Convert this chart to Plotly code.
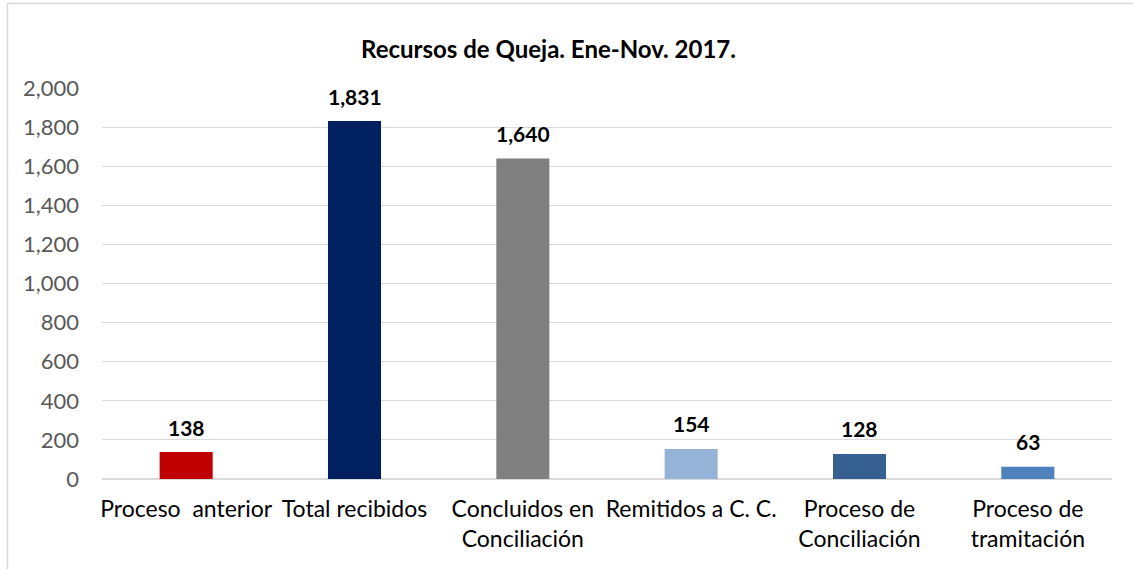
import plotly.graph_objects as go

categories = ["Proceso  anterior", "Total recibidos", "Concluidos en<br>Conciliación",
              "Remitidos a C. C.", "Proceso de<br>Conciliación", "Proceso de<br>tramitación"]
values = [138, 1831, 1640, 154, 128, 63]
colors = ["#C00000", "#002060", "#808080", "#95B3D7", "#366092", "#4F81BD"]
title_text = "Recursos de Queja. Ene-Nov. 2017."
y_ticks = [0, 200, 400, 600, 800, 1000, 1200, 1400, 1600, 1800, 2000]

FONT = "Lato"
W, H = 1133, 569
L, R, T, B = 102, 21, 88, 90
PW, PH = W - L - R, H - T - B

fig = go.Figure()
fig.add_trace(go.Bar(
    x=categories, y=values, marker=dict(color=colors, line=dict(width=0)),
    width=0.315, hoverinfo="skip", showlegend=False,
))

for c, v in zip(categories, values):
    fig.add_annotation(x=c, y=v, text=f"<b>{v:,}</b>", showarrow=False,
                       yanchor="middle", yshift=25,
                       font=dict(family=FONT, size=21, color="#000000"))

fig.update_layout(
    width=W, height=H,
    margin=dict(l=L, r=R, t=T, b=B),
    paper_bgcolor="white", plot_bgcolor="white",
    title=dict(text=f"<b>{title_text}</b>", x=548.5 / W, xanchor="center",
               y=1 - 50 / H, yanchor="middle",
               font=dict(family=FONT, size=24, color="#000000")),
    font=dict(family=FONT),
    bargap=0.685,
)
fig.update_xaxes(showgrid=False, showline=False, ticks="",
                 tickfont=dict(family=FONT, size=23, color="#000000"),
                 ticklabelstandoff=14)
fig.update_yaxes(range=[0, 2000], tickvals=y_ticks, tickformat=",",
                 showgrid=True, gridcolor="#D9D9D9", gridwidth=1,
                 zeroline=True, zerolinecolor="#D9D9D9", zerolinewidth=1.5,
                 showline=False, ticks="",
                 tickfont=dict(family=FONT, size=22, color="#595959"),
                 ticklabelstandoff=22)

# outer chart border (partially visible): left at x=7.5, top at y=3.5 (pixels)
left_x = (7.5 - L) / PW
top_y = 1 + (T - 3.5) / PH
fig.add_shape(type="line", xref="paper", yref="paper", layer="above",
              x0=left_x, x1=1 + (R + 10) / PW, y0=top_y, y1=top_y,
              line=dict(color="#D9D9D9", width=1.5))
fig.add_shape(type="line", xref="paper", yref="paper", layer="above",
              x0=left_x, x1=left_x, y0=top_y, y1=-(B + 10) / PH,
              line=dict(color="#D9D9D9", width=1.5))

fig.write_html("out.html", config={"displayModeBar": False},
               post_script="document.body.style.margin='0';document.body.style.overflow='hidden';")
